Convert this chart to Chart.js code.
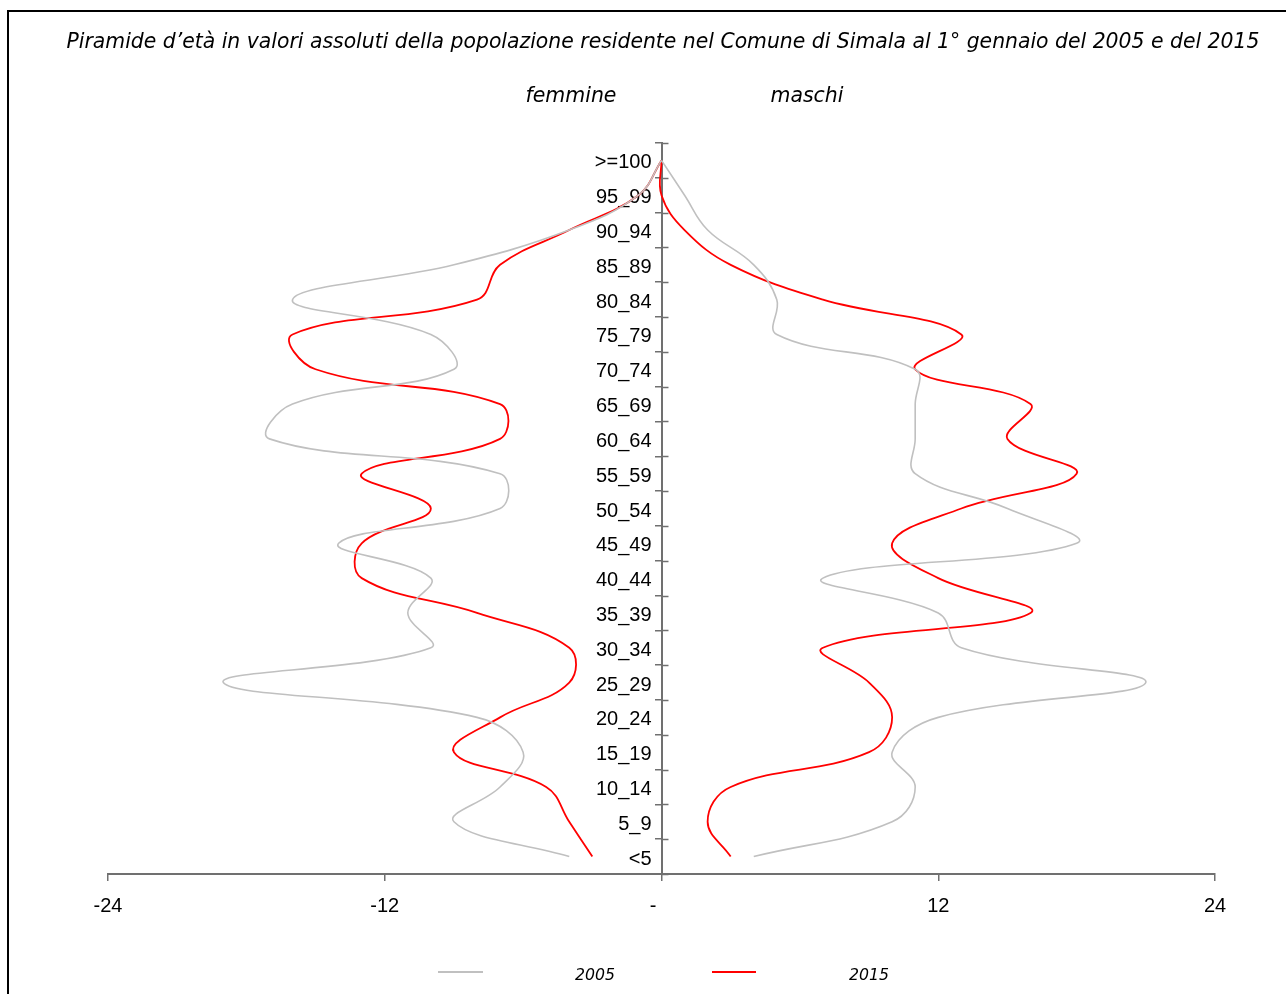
<!DOCTYPE html>
<html><head><meta charset="utf-8">
<script src="https://cdn.jsdelivr.net/npm/chart.js@4.4.0/dist/chart.umd.min.js"></script>
<style>
html,body{margin:0;padding:0;background:#fff;overflow:hidden;}
#wrap{position:relative;width:1286px;height:994px;overflow:hidden;}
#frame{position:absolute;left:7px;top:10px;width:1300px;height:1010px;border:2px solid #000;box-sizing:border-box;}
canvas{position:absolute;left:0;top:0;}
</style></head><body>
<div id="wrap"><div id="frame"></div><canvas id="c" width="1286" height="994"></canvas></div>
<script>
// Age groups, top to bottom
const ageGroups = ['>=100','95_99','90_94','85_89','80_84','75_79','70_74','65_69','60_64','55_59','50_54','45_49','40_44','35_39','30_34','25_29','20_24','15_19','10_14','5_9','<5'];
// Females (negative = left side)
const females2005 = [0,-1,-4,-9,-16,-10,-9,-16,-17,-7,-7,-14,-10,-11,-10,-19,-8,-6,-7,-9,-4];
const females2015 = [0,-1,-4,-7,-8,-16,-15,-7,-7,-13,-10,-13,-13,-8,-4,-4,-7,-9,-5,-4,-3];
// Males
const males2005 = [0,1,2,4,5,5,11,11,11,11,15,18,7,12,13,21,12,10,11,10,4];
const males2015 = [0,0,1,3,7,13,11,16,15,18,13,10,12,16,7,9,10,9,3,2,3];
// Axis ticks
const xMin = -24, xMax = 24, xStep = 12;

const titleText = 'Piramide d\u2019età in valori assoluti della popolazione residente nel Comune di Simala al 1° gennaio del 2005 e del 2015';
const sideLabels = ['femmine','maschi'];
const seriesNames = ['2005','2015'];
const GREY = '#c0c0c0', RED = '#ff0000', AXIS = '#707070';
const TXT_FONT = '"DejaVu Sans"';

function fitText(ctx, text, width, cx, cy){
  ctx.font = 'italic 20px ' + TXT_FONT;
  const w = ctx.measureText(text).width;
  const size = 20 * width / w;
  ctx.font = 'italic ' + size.toFixed(2) + 'px ' + TXT_FONT;
  ctx.textAlign = 'center';
  ctx.textBaseline = 'middle';
  ctx.fillText(text, cx, cy);
}

const decor = {
  id: 'decor',
  afterDraw(chart){
    const ctx = chart.ctx;
    const ys = chart.scales.y, xs = chart.scales.x;
    const x0 = xs.getPixelForValue(0);
    ctx.save();
    // right-hand half of the category tick marks
    ctx.strokeStyle = AXIS; ctx.lineWidth = 1.5;
    for (let i = 0; i <= ageGroups.length; i++){
      const y = Math.round(ys.getPixelForValue(i - 0.5)) + 0.5;
      ctx.beginPath(); ctx.moveTo(x0, y); ctx.lineTo(x0 + 7, y); ctx.stroke();
    }
    ctx.fillStyle = '#000';
    fitText(ctx, titleText, 1194, 663, 43);
    fitText(ctx, sideLabels[0], 91, 571, 97);
    fitText(ctx, sideLabels[1], 73, 807, 97);
    // legend
    const items = [[seriesNames[0], GREY, 438, 483, 595],[seriesNames[1], RED, 712, 756, 869]];
    items.forEach(([t, c, a, b, tx]) => {
      ctx.strokeStyle = c; ctx.lineWidth = 2;
      ctx.beginPath(); ctx.moveTo(a, 972); ctx.lineTo(b, 972); ctx.stroke();
      ctx.fillStyle = '#000';
      fitText(ctx, t, 40, tx, 976);
    });
    ctx.restore();
  }
};

const tickFont = {family: '"Liberation Sans", Arial, sans-serif', size: 20};

new Chart(document.getElementById('c').getContext('2d'), {
  type: 'line',
  data: {
    labels: ageGroups,
    datasets: [
      {label: seriesNames[0], data: females2005, borderColor: GREY, borderWidth: 1.6},
      {label: seriesNames[0], data: males2005, borderColor: GREY, borderWidth: 1.6},
      {label: seriesNames[1], data: females2015, borderColor: RED, borderWidth: 1.8},
      {label: seriesNames[1], data: males2015, borderColor: RED, borderWidth: 1.8}
    ]
  },
  options: {
    indexAxis: 'y',
    responsive: false,
    animation: false,
    devicePixelRatio: 1,
    layout: {padding: {left: 108, right: 71, top: 143, bottom: 63}},
    elements: {point: {radius: 0}, line: {tension: 0.4, fill: false}},
    plugins: {legend: {display: false}, title: {display: false}, tooltip: {enabled: false}},
    scales: {
      x: {
        type: 'linear', position: 'bottom', min: xMin, max: xMax,
        ticks: {stepSize: xStep, font: tickFont, color: '#000', padding: 13,
          callback: v => v === 0 ? '-   ' : String(v)},
        grid: {drawOnChartArea: false, drawTicks: true, tickLength: 7, color: AXIS, lineWidth: 1.5},
        border: {display: true, color: AXIS, width: 2}
      },
      y: {
        type: 'category', position: {x: 0}, offset: true,
        ticks: {font: tickFont, color: '#000', padding: 3, autoSkip: false, labelOffset: 2.5,
          callback: function(v, i){ return this.getLabelForValue(v) + '\u2002'; }},
        grid: {offset: true, drawOnChartArea: false, drawTicks: true, tickLength: 6, color: AXIS, lineWidth: 1.5},
        border: {display: true, color: AXIS, width: 2}
      }
    }
  },
  plugins: [decor]
});
</script>
</body></html>
